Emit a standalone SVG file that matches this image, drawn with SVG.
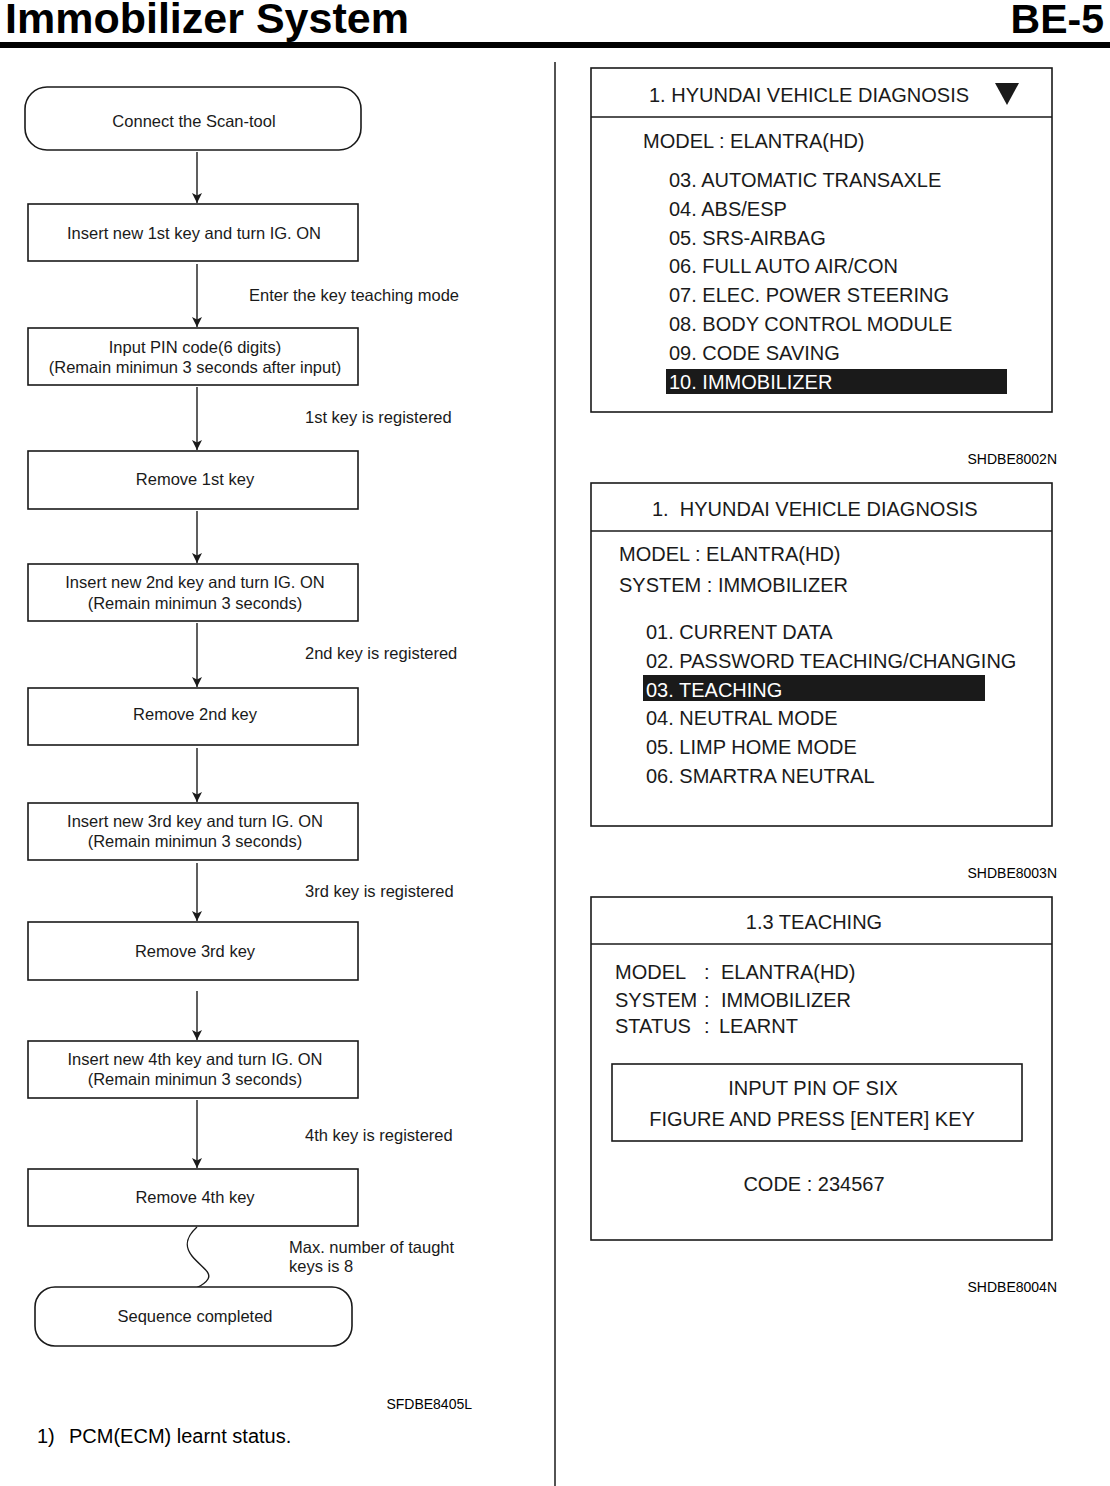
<svg xmlns="http://www.w3.org/2000/svg" width="1110" height="1486" viewBox="0 0 1110 1486">
<style>
text{font-family:"Liberation Sans",Arial,sans-serif;fill:#1a1a1a}
.title{font-size:43px;font-weight:bold;fill:#000}
.fc{font-size:16.5px;text-anchor:middle}
.lbl{font-size:16.5px}
.box{fill:#fff;stroke:#1a1a1a;stroke-width:1.6}
.scr{fill:#fff;stroke:#1a1a1a;stroke-width:1.6}
.st{font-size:20px}
.stc{font-size:20px;text-anchor:middle}
.code{font-size:14px;text-anchor:end;fill:#000}
.hl{fill:#1a1a1a}
.hlt{font-size:20px;fill:#fff}
.conn line,.conn path{stroke:#1a1a1a;stroke-width:1.4;fill:none}
</style>
<defs>
<marker id="ah" markerUnits="userSpaceOnUse" markerWidth="10" markerHeight="12" viewBox="0 0 10 12" refX="10" refY="5" orient="auto">
<path d="M0,0 L10,5 L0,10 L2.5,5 z" fill="#1a1a1a"/>
</marker>
</defs>
<rect width="1110" height="1486" fill="#fff"/>
<g id="header">
<text class="title" x="5" y="33">Immobilizer System</text>
<text class="title" x="1104" y="33" text-anchor="end" style="font-size:41px">BE-5</text>
<rect x="0" y="42" width="1110" height="6" fill="#000"/>
<line x1="555" y1="62" x2="555" y2="1486" stroke="#1a1a1a" stroke-width="1.5"/>
</g>
<g class="conn" id="connectors">
<line x1="197" y1="152" x2="197" y2="203" marker-end="url(#ah)"/>
<line x1="197" y1="264" x2="197" y2="327" marker-end="url(#ah)"/>
<line x1="197" y1="387" x2="197" y2="450" marker-end="url(#ah)"/>
<line x1="197" y1="511" x2="197" y2="563" marker-end="url(#ah)"/>
<line x1="197" y1="623" x2="197" y2="687" marker-end="url(#ah)"/>
<line x1="197" y1="748" x2="197" y2="802" marker-end="url(#ah)"/>
<line x1="197" y1="863" x2="197" y2="921" marker-end="url(#ah)"/>
<line x1="197" y1="991" x2="197" y2="1040" marker-end="url(#ah)"/>
<line x1="197" y1="1100" x2="197" y2="1168" marker-end="url(#ah)"/>
<path d="M197,1227 C186,1237 184,1246 192,1256 C201,1267 212,1272 208,1279 C205,1284 200,1286 196,1288"/>
</g>
<g id="labels">
<text class="lbl" x="249" y="301">Enter the key teaching mode</text>
<text class="lbl" x="305" y="423">1st key is registered</text>
<text class="lbl" x="305" y="659">2nd key is registered</text>
<text class="lbl" x="305" y="897">3rd key is registered</text>
<text class="lbl" x="305" y="1141">4th key is registered</text>
<text class="lbl" x="289" y="1253">Max. number of taught</text>
<text class="lbl" x="289" y="1272">keys is 8</text>
</g>
<g id="n1"><rect class="box" x="25" y="87" width="336" height="63" rx="22"/><text class="fc" x="194" y="127">Connect the Scan-tool</text></g>
<g id="n2"><rect class="box" x="28" y="204" width="330" height="57"/><text class="fc" x="194" y="239">Insert new 1st key and turn IG. ON</text></g>
<g id="n3"><rect class="box" x="28" y="328" width="330" height="57"/><text class="fc" x="195" y="353">Input PIN code(6 digits)</text><text class="fc" x="195" y="373">(Remain minimun 3 seconds after input)</text></g>
<g id="n4"><rect class="box" x="28" y="451" width="330" height="58"/><text class="fc" x="195" y="485">Remove 1st key</text></g>
<g id="n5"><rect class="box" x="28" y="564" width="330" height="57"/><text class="fc" x="195" y="588">Insert new 2nd key and turn IG. ON</text><text class="fc" x="195" y="609">(Remain minimun 3 seconds)</text></g>
<g id="n6"><rect class="box" x="28" y="688" width="330" height="57"/><text class="fc" x="195" y="720">Remove 2nd key</text></g>
<g id="n7"><rect class="box" x="28" y="803" width="330" height="57"/><text class="fc" x="195" y="827">Insert new 3rd key and turn IG. ON</text><text class="fc" x="195" y="847">(Remain minimun 3 seconds)</text></g>
<g id="n8"><rect class="box" x="28" y="922" width="330" height="58"/><text class="fc" x="195" y="957">Remove 3rd key</text></g>
<g id="n9"><rect class="box" x="28" y="1041" width="330" height="57"/><text class="fc" x="195" y="1065">Insert new 4th key and turn IG. ON</text><text class="fc" x="195" y="1085">(Remain minimun 3 seconds)</text></g>
<g id="n10"><rect class="box" x="28" y="1169" width="330" height="57"/><text class="fc" x="195" y="1203">Remove 4th key</text></g>
<g id="n11"><rect class="box" x="35" y="1287" width="317" height="59" rx="20"/><text class="fc" x="195" y="1322">Sequence completed</text></g>
<g id="footer-left">
<text class="code" x="472" y="1409">SFDBE8405L</text>
<text x="37" y="1443" style="font-size:20px;fill:#000">1)</text>
<text x="69" y="1443" style="font-size:20px;fill:#000">PCM(ECM) learnt status.</text>
</g>
<g id="screen1">
<rect class="scr" x="591" y="68" width="461" height="344"/>
<line x1="591" y1="117" x2="1052" y2="117" stroke="#1a1a1a" stroke-width="1.6"/>
<text class="st" x="649" y="102">1. HYUNDAI VEHICLE DIAGNOSIS</text>
<polygon points="995,83 1019,83 1007,105" fill="#1a1a1a"/>
<text class="st" x="643" y="148">MODEL : ELANTRA(HD)</text>
<text class="st" x="669" y="187">03. AUTOMATIC TRANSAXLE</text>
<text class="st" x="669" y="216">04. ABS/ESP</text>
<text class="st" x="669" y="245">05. SRS-AIRBAG</text>
<text class="st" x="669" y="273">06. FULL AUTO AIR/CON</text>
<text class="st" x="669" y="302">07. ELEC. POWER STEERING</text>
<text class="st" x="669" y="331">08. BODY CONTROL MODULE</text>
<text class="st" x="669" y="360">09. CODE SAVING</text>
<rect class="hl" x="666" y="369" width="341" height="25"/>
<text class="hlt" x="669" y="389">10. IMMOBILIZER</text>
</g>
<text class="code" x="1057" y="464">SHDBE8002N</text>
<g id="screen2">
<rect class="scr" x="591" y="483" width="461" height="343"/>
<line x1="591" y1="531" x2="1052" y2="531" stroke="#1a1a1a" stroke-width="1.6"/>
<text class="st" x="652" y="516" xml:space="preserve">1.  HYUNDAI VEHICLE DIAGNOSIS</text>
<text class="st" x="619" y="561">MODEL : ELANTRA(HD)</text>
<text class="st" x="619" y="592">SYSTEM : IMMOBILIZER</text>
<text class="st" x="646" y="639">01. CURRENT DATA</text>
<text class="st" x="646" y="668">02. PASSWORD TEACHING/CHANGING</text>
<rect class="hl" x="643" y="675" width="342" height="26"/>
<text class="hlt" x="646" y="697">03. TEACHING</text>
<text class="st" x="646" y="725">04. NEUTRAL MODE</text>
<text class="st" x="646" y="754">05. LIMP HOME MODE</text>
<text class="st" x="646" y="783">06. SMARTRA NEUTRAL</text>
</g>
<text class="code" x="1057" y="878">SHDBE8003N</text>
<g id="screen3">
<rect class="scr" x="591" y="897" width="461" height="343"/>
<line x1="591" y1="944" x2="1052" y2="944" stroke="#1a1a1a" stroke-width="1.6"/>
<text class="stc" x="814" y="929">1.3 TEACHING</text>
<text class="st" x="615" y="979">MODEL</text><text class="st" x="704" y="979">:</text><text class="st" x="721" y="979">ELANTRA(HD)</text>
<text class="st" x="615" y="1007">SYSTEM</text><text class="st" x="704" y="1007">:</text><text class="st" x="721" y="1007">IMMOBILIZER</text>
<text class="st" x="615" y="1033">STATUS</text><text class="st" x="704" y="1033">:</text><text class="st" x="719" y="1033">LEARNT</text>
<rect class="scr" x="612" y="1064" width="410" height="77"/>
<text class="stc" x="813" y="1095">INPUT PIN OF SIX</text>
<text class="stc" x="812" y="1126">FIGURE AND PRESS [ENTER] KEY</text>
<text class="stc" x="814" y="1191">CODE : 234567</text>
</g>
<text class="code" x="1057" y="1292">SHDBE8004N</text>
</svg>
